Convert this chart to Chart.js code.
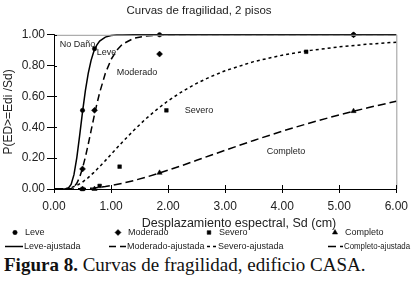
<!DOCTYPE html>
<html>
<head>
<meta charset="utf-8">
<script src="https://cdn.jsdelivr.net/npm/chart.js@4"></script>
<style>
body{margin:0;background:#fff;}
#wrap{position:relative;width:414px;height:281px;}
#caption{position:absolute;left:4px;top:254px;font-family:"Liberation Serif","Times New Roman",serif;font-size:19px;line-height:22px;color:#111;white-space:nowrap;}
</style>
</head>
<body>
<div id="wrap">
<canvas id="chart" width="414" height="254"></canvas>
<div id="caption"><b>Figura 8.</b> Curvas de fragilidad, edificio CASA.</div>
</div>
<script>
// observed points (Sd in cm, probability)
const leveSd = [0.50, 0.71, 1.85, 5.25];
const leveP = [0.51, 0.91, 1.00, 1.00];
const moderadoSd = [0.50, 0.71, 1.85, 5.25];
const moderadoP = [0.13, 0.51, 0.875, 1.00];
const severoSd = [0.50, 0.80, 1.15, 1.97, 4.42];
const severoP = [0.00, 0.02, 0.145, 0.51, 0.89];
const completoSd = [0.50, 0.71, 1.85, 5.25];
const completoP = [0.00, 0.00, 0.105, 0.505];

// fitted curves
const fineSd = [0, 0.2, 0.25, 0.3, 0.35, 0.4, 0.45, 0.5, 0.55, 0.6, 0.65, 0.7, 0.75, 0.8, 0.9, 1.0, 1.1, 1.2, 1.4, 1.6, 1.8, 2.0, 2.5, 6.0];
const leveFit = [0, 0.0003, 0.005, 0.029, 0.093, 0.204, 0.348, 0.5, 0.638, 0.75, 0.834, 0.894, 0.933, 0.959, 0.985, 0.995, 0.998, 0.9994, 1, 1, 1, 1, 1, 1];
const moderadoFit = [0, 0.0001, 0.0007, 0.004, 0.014, 0.037, 0.077, 0.135, 0.207, 0.29, 0.378, 0.466, 0.549, 0.625, 0.75, 0.84, 0.9, 0.939, 0.978, 0.992, 0.997, 0.999, 1, 1];
const coarseSd = [0, 0.2, 0.3, 0.4, 0.5, 0.6, 0.7, 0.8, 0.9, 1.0, 1.2, 1.4, 1.6, 1.8, 2.0, 2.25, 2.5, 2.75, 3.0, 3.5, 4.0, 4.5, 5.0, 5.5, 6.0];
const severoFit = [0, 0.002, 0.009, 0.023, 0.045, 0.074, 0.108, 0.145, 0.184, 0.225, 0.305, 0.381, 0.452, 0.515, 0.572, 0.633, 0.685, 0.729, 0.767, 0.826, 0.868, 0.899, 0.922, 0.939, 0.952];
const completoFit = [0, 0, 0.0003, 0.001, 0.002, 0.004, 0.007, 0.011, 0.016, 0.022, 0.037, 0.055, 0.075, 0.098, 0.122, 0.153, 0.186, 0.219, 0.251, 0.315, 0.375, 0.43, 0.481, 0.527, 0.569];

const chartTitle = 'Curvas de fragilidad, 2 pisos';
const xTitle = 'Desplazamiento espectral, Sd (cm)';
const yTitle = 'P(ED>=Edi /Sd)';
const stateNames = ['No Daño', 'Leve', 'Moderado', 'Severo', 'Completo'];

const toXY = (xs, ys) => xs.map((x, i) => ({x: x, y: ys[i]}));

const pts = (label, xs, ys, style, r) => ({
  label: label, data: toXY(xs, ys), showLine: false,
  pointStyle: style, pointRadius: r, pointBackgroundColor: '#000', pointBorderColor: '#000',
  pointBorderWidth: 0.5, clip: false
});
const fit = (label, xs, ys, dash) => ({
  label: label, data: toXY(xs, ys), showLine: true, pointRadius: 0,
  borderColor: '#000', borderWidth: 1.5, borderDash: dash, tension: 0, clip: false
});

const datasets = [
  pts('Leve', leveSd, leveP, 'circle', 2.2),
  pts('Moderado', moderadoSd, moderadoP, 'rectRot', 3),
  pts('Severo', severoSd, severoP, 'rect', 2.6),
  pts('Completo', completoSd, completoP, 'triangle', 3),
  fit('Leve-ajustada', fineSd, leveFit, []),
  fit('Moderado-ajustada', fineSd, moderadoFit, [7, 4]),
  fit('Severo-ajustada', coarseSd, severoFit, [3, 3]),
  fit('Completo-ajustada', coarseSd, completoFit, [8, 4])
];

// legend columns / rows, plus frame and inner tick stubs
const legendCols = [5, 108, 199, 325];
const legendLineLen = [18, 17, 10, 15];
const legendRows = [232.5, 246.5];
// where the damage-state names sit, in axis units
const notePos = [[0.1, 0.94], [0.75, 0.885], [1.1, 0.753], [2.29, 0.508], [3.73, 0.242]];

const extras = {
  id: 'extras',
  afterDraw(chart) {
    const {ctx, chartArea: a, scales} = chart;
    const x = scales.x, y = scales.y;
    ctx.save();
    ctx.lineWidth = 1;
    ctx.strokeStyle = '#999';
    ctx.beginPath();
    ctx.moveTo(a.right + 0.5, a.top);
    ctx.lineTo(a.right + 0.5, a.bottom);
    ctx.moveTo(a.left, a.top + 0.5);
    ctx.lineTo(a.right, a.top + 0.5);
    ctx.stroke();

    ctx.strokeStyle = '#000';
    ctx.beginPath();
    x.ticks.forEach(t => {
      const px = Math.round(x.getPixelForValue(t.value)) + 0.5;
      ctx.moveTo(px, a.bottom);
      ctx.lineTo(px, a.bottom - 4);
    });
    y.ticks.forEach(t => {
      const py = Math.round(y.getPixelForValue(t.value)) + 0.5;
      ctx.moveTo(a.left, py);
      ctx.lineTo(a.left + 3, py);
    });
    ctx.stroke();

    ctx.textBaseline = 'middle';
    ctx.textAlign = 'left';
    ctx.fillStyle = '#222';
    ctx.font = '9px "Liberation Sans", Arial, sans-serif';
    stateNames.forEach((name, i) => {
      ctx.fillText(name, x.getPixelForValue(notePos[i][0]), y.getPixelForValue(notePos[i][1]));
    });

    ctx.font = '12.5px "Liberation Sans", Arial, sans-serif';
    ctx.textAlign = 'center';
    ctx.fillText(xTitle, 239, 224);

    // legend
    ctx.font = '9px "Liberation Sans", Arial, sans-serif';
    ctx.textAlign = 'left';
    chart.data.datasets.forEach((ds, i) => {
      const c = i % 4;
      const col = legendCols[c];
      const row = legendRows[Math.floor(i / 4)];
      const maxW = chart.width - (col + 20) - 3;
      ctx.fillStyle = '#000';
      ctx.strokeStyle = '#000';
      if (ds.showLine) {
        ctx.lineWidth = 1.5;
        ctx.setLineDash(ds.borderDash);
        ctx.beginPath();
        ctx.moveTo(col + 18 - legendLineLen[c], row);
        ctx.lineTo(col + 18, row);
        ctx.stroke();
        ctx.setLineDash([]);
        ctx.fillStyle = '#222';
        ctx.fillText(ds.label, col + 19, row, maxW);
      } else {
        ctx.lineWidth = 0.5;
        Chart.helpers.drawPoint(ctx, {pointStyle: ds.pointStyle, radius: ds.pointRadius, rotation: 0, borderWidth: 0.5}, col + 10, row);
        ctx.fillStyle = '#222';
        ctx.fillText(ds.label, col + 20, row, maxW);
      }
    });
    ctx.restore();
  }
};

new Chart(document.getElementById('chart'), {
  type: 'scatter',
  data: {datasets: datasets},
  options: {
    responsive: false,
    animation: false,
    layout: {padding: {left: 0, right: 16, top: 0, bottom: 0}},
    plugins: {
      legend: {display: false},
      tooltip: {enabled: false},
      title: {
        display: true, text: chartTitle, color: '#222',
        font: {family: '"Liberation Sans", Arial, sans-serif', size: 11.5, weight: 'normal'},
        padding: {top: 4, bottom: 17}
      }
    },
    scales: {
      x: {
        type: 'linear', min: 0, max: 6,
        ticks: {stepSize: 1, padding: 6, color: '#222', font: {family: '"Liberation Sans", Arial', size: 12},
          callback: v => v.toFixed(2)},
        grid: {drawOnChartArea: false, tickLength: 4, color: '#000'},
        border: {color: '#000', width: 1},
        afterFit: s => { s.height = 65; }
      },
      y: {
        min: 0, max: 1,
        ticks: {stepSize: 0.1, padding: 2, color: '#222', font: {family: '"Liberation Sans", Arial', size: 12},
          callback: v => v.toFixed(2)},
        grid: {drawOnChartArea: false, tickLength: 7, color: '#000'},
        border: {color: '#000', width: 1},
        title: {display: true, text: yTitle, color: '#222', padding: {top: 1, bottom: 0},
          font: {family: '"Liberation Sans", Arial', size: 12}},
        afterFit: s => { s.width = 54; }
      }
    }
  },
  plugins: [extras]
});
</script>
</body>
</html>
